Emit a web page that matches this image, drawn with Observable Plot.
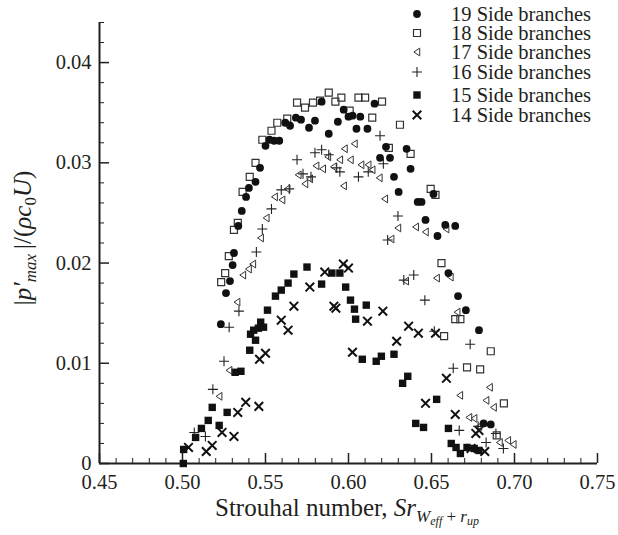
<!DOCTYPE html>
<html><head><meta charset="utf-8">
<script src="https://cdn.jsdelivr.net/npm/d3@7"></script>
<script src="https://cdn.jsdelivr.net/npm/@observablehq/plot@0.6"></script>
<style>
body{margin:0;background:#fff;}
#chart{position:relative;width:618px;height:535px;}
#chart svg, #chart svg text, #chart svg tspan{font-family:"Liberation Serif","Times New Roman",serif !important;}
</style>
</head><body><div id="chart"></div>
<script>
// ---- data ----
const seriesNames = ["19 Side branches","18 Side branches","17 Side branches","16 Side branches","15 Side branches","14 Side branches"];

const s19 = [[0.5231,0.0139],[0.5262,0.0170],[0.5286,0.0182],[0.5302,0.0198],[0.5310,0.0210],[0.5336,0.0237],[0.5357,0.0252],[0.5383,0.0266],[0.5400,0.0275],[0.5440,0.0281],[0.5467,0.0295],[0.5500,0.0317],[0.5524,0.0323],[0.5552,0.0322],[0.5583,0.0322],[0.5619,0.0340],[0.5648,0.0337],[0.5683,0.0345],[0.5714,0.0343],[0.5762,0.0335],[0.5798,0.0342],[0.5838,0.0361],[0.5881,0.0329],[0.5936,0.0341],[0.5971,0.0353],[0.6000,0.0346],[0.6024,0.0347],[0.6048,0.0334],[0.6071,0.0346],[0.6114,0.0334],[0.6157,0.0359],[0.6190,0.0305],[0.6226,0.0316],[0.6250,0.0305],[0.6274,0.0286],[0.6302,0.0271],[0.6350,0.0314],[0.6374,0.0294],[0.6417,0.0261],[0.6440,0.0261],[0.6464,0.0243],[0.6512,0.0269],[0.6536,0.0227],[0.6583,0.0238],[0.6643,0.0237],[0.6602,0.0190],[0.6660,0.0167],[0.6707,0.0153],[0.6786,0.0133],[0.6814,0.0040],[0.6857,0.0039]];

const s18 = [[0.5233,0.0181],[0.5257,0.0190],[0.5279,0.0207],[0.5310,0.0233],[0.5333,0.0240],[0.5362,0.0271],[0.5405,0.0286],[0.5440,0.0300],[0.5481,0.0323],[0.5536,0.0332],[0.5571,0.0340],[0.5631,0.0344],[0.5690,0.0360],[0.5738,0.0355],[0.5786,0.0360],[0.5829,0.0362],[0.5881,0.0370],[0.5921,0.0361],[0.5957,0.0365],[0.6007,0.0352],[0.6060,0.0365],[0.6100,0.0365],[0.6143,0.0345],[0.6202,0.0361],[0.6243,0.0315],[0.6310,0.0338],[0.6374,0.0309],[0.6495,0.0274],[0.6524,0.0268],[0.6560,0.0200],[0.6576,0.0127],[0.6643,0.0144],[0.6674,0.0144],[0.6714,0.0096],[0.6793,0.0094],[0.6857,0.0112],[0.6936,0.0060],[0.6893,0.0028]];

const s17 = [[0.5221,0.0067],[0.5281,0.0093],[0.5329,0.0161],[0.5364,0.0188],[0.5398,0.0194],[0.5424,0.0199],[0.5471,0.0225],[0.5505,0.0245],[0.5555,0.0266],[0.5600,0.0263],[0.5631,0.0274],[0.5698,0.0288],[0.5738,0.0279],[0.5767,0.0284],[0.5805,0.0297],[0.5845,0.0294],[0.5876,0.0306],[0.5910,0.0296],[0.5948,0.0303],[0.5971,0.0277],[0.5976,0.0314],[0.6012,0.0303],[0.6036,0.0319],[0.6076,0.0298],[0.6119,0.0298],[0.6143,0.0293],[0.6186,0.0285],[0.6219,0.0264],[0.6257,0.0224],[0.6298,0.0235],[0.6345,0.0182],[0.6405,0.0236],[0.6464,0.0231],[0.6531,0.0185],[0.6588,0.0234],[0.6614,0.0186],[0.6655,0.0151],[0.6671,0.0068],[0.6726,0.0046],[0.6757,0.0045],[0.6786,0.0037],[0.6829,0.0063],[0.6850,0.0076],[0.6874,0.0056],[0.6910,0.0021],[0.6960,0.0023],[0.6993,0.0019]];

const s16 = [[0.5071,0.0031],[0.5138,0.0027],[0.5183,0.0074],[0.5250,0.0102],[0.5281,0.0136],[0.5340,0.0152],[0.5445,0.0211],[0.5481,0.0234],[0.5536,0.0254],[0.5595,0.0273],[0.5643,0.0274],[0.5690,0.0303],[0.5726,0.0289],[0.5774,0.0286],[0.5798,0.0310],[0.5838,0.0313],[0.5881,0.0308],[0.5929,0.0295],[0.5948,0.0291],[0.6060,0.0286],[0.6119,0.0291],[0.6190,0.0327],[0.6210,0.0299],[0.6236,0.0223],[0.6298,0.0247],[0.6333,0.0183],[0.6393,0.0188],[0.6460,0.0163],[0.6517,0.0132],[0.6631,0.0095],[0.6667,0.0033],[0.6733,0.0119],[0.6781,0.0037],[0.6829,0.0021],[0.6888,0.0030],[0.6933,0.0015]];

const s15 = [[0.5005,0.0000],[0.5007,0.0014],[0.5079,0.0026],[0.5114,0.0035],[0.5155,0.0043],[0.5179,0.0056],[0.5221,0.0038],[0.5269,0.0051],[0.5317,0.0091],[0.5352,0.0092],[0.5405,0.0113],[0.5410,0.0129],[0.5429,0.0133],[0.5440,0.0123],[0.5457,0.0135],[0.5471,0.0141],[0.5488,0.0136],[0.5512,0.0153],[0.5560,0.0167],[0.5595,0.0173],[0.5636,0.0180],[0.5671,0.0189],[0.5750,0.0196],[0.5838,0.0179],[0.5900,0.0190],[0.5948,0.0190],[0.5983,0.0176],[0.6012,0.0163],[0.6036,0.0154],[0.6043,0.0144],[0.6107,0.0158],[0.6083,0.0104],[0.6167,0.0102],[0.6198,0.0107],[0.6274,0.0109],[0.6326,0.0080],[0.6357,0.0087],[0.6405,0.0040],[0.6452,0.0036],[0.6531,0.0064],[0.6602,0.0035],[0.6619,0.0020],[0.6648,0.0016],[0.6674,0.0010],[0.6714,0.0016],[0.6757,0.0015],[0.6786,0.0013]];

const s14 = [[0.5036,0.0016],[0.5143,0.0012],[0.5179,0.0018],[0.5238,0.0031],[0.5310,0.0027],[0.5333,0.0051],[0.5381,0.0061],[0.5460,0.0057],[0.5464,0.0104],[0.5500,0.0110],[0.5595,0.0143],[0.5636,0.0133],[0.5671,0.0157],[0.5767,0.0176],[0.5857,0.0191],[0.5912,0.0157],[0.5924,0.0155],[0.5969,0.0199],[0.6000,0.0195],[0.6024,0.0111],[0.6114,0.0142],[0.6207,0.0152],[0.6290,0.0122],[0.6362,0.0137],[0.6421,0.0130],[0.6464,0.0060],[0.6524,0.0130],[0.6590,0.0085],[0.6643,0.0049],[0.6738,0.0015],[0.6767,0.0030],[0.6786,0.0033],[0.6821,0.0012]];

const xMajor = [0.45,0.50,0.55,0.60,0.65,0.70,0.75];
const xMinor = [0.46,0.47,0.48,0.49,0.51,0.52,0.53,0.54,0.56,0.57,0.58,0.59,0.61,0.62,0.63,0.64,0.66,0.67,0.68,0.69,0.71,0.72,0.73,0.74];
const yMajor = [0,0.01,0.02,0.03,0.04];
const yMinor = [0.002,0.004,0.006,0.008,0.012,0.014,0.016,0.018,0.022,0.024,0.026,0.028,0.032,0.034,0.036,0.038,0.042,0.044];

// ---- symbols ----
const rad = size => Math.sqrt(size / Math.PI);
const symCircle = {draw(c, size){const s = rad(size); c.moveTo(s,0); c.arc(0,0,s,0,2*Math.PI);}};
const symSquare = {draw(c, size){const s = rad(size); c.rect(-s,-s,2*s,2*s);}};
const symTriLeft = {draw(c, size){const s = rad(size); c.moveTo(-s*0.8,0); c.lineTo(s*0.7,-s); c.lineTo(s*0.7,s); c.closePath();}};
const symPlus = {draw(c, size){const s = rad(size); c.moveTo(-s,0); c.lineTo(s,0); c.moveTo(0,-s); c.lineTo(0,s);}};
const symTimes = {draw(c, size){const s = rad(size); c.moveTo(-s,-s); c.lineTo(s,s); c.moveTo(-s,s); c.lineTo(s,-s);}};

const styles = [
  {data: s19, symbol: symCircle, r: 3.9, fill: "#111", stroke: "none", strokeWidth: 0},
  {data: s18, symbol: symSquare, r: 3.5, fill: "none", stroke: "#333", strokeWidth: 1.2},
  {data: s17, symbol: symTriLeft, r: 3.9, fill: "none", stroke: "#333", strokeWidth: 1},
  {data: s16, symbol: symPlus, r: 5, fill: "none", stroke: "#222", strokeWidth: 1.1},
  {data: s15, symbol: symSquare, r: 3.7, fill: "#111", stroke: "none", strokeWidth: 0},
  {data: s14, symbol: symTimes, r: 4.3, fill: "none", stroke: "#111", strokeWidth: 2}
];

const rows = d => d.map(([x, y]) => ({x, y}));
const ink = "#231f20";
const serif = "Liberation Serif";
const fmtY = d => d === 0 ? "0" : d3.format(".2f")(d);

const dotMarks = styles.slice().reverse().map(st =>
  Plot.dot(rows(st.data), {x: "x", y: "y", r: st.r, symbol: st.symbol, fill: st.fill, stroke: st.stroke, strokeWidth: st.strokeWidth})
);

const plot = Plot.plot({
  width: 618, height: 535,
  marginLeft: 99, marginRight: 21, marginTop: 22, marginBottom: 72,
  x: {domain: [0.45, 0.75]},
  y: {domain: [0, 0.044]},
  marks: [
    Plot.axisX({ticks: xMajor, tickFormat: d3.format(".2f"), tickSize: 0, tickPadding: 11, label: null, fontSize: 20.5, fill: ink}),
    Plot.axisX({ticks: xMajor, tickFormat: () => "", tickSize: -10, strokeWidth: 1.5, label: null, stroke: ink}),
    Plot.axisX({ticks: xMinor, tickFormat: () => "", tickSize: -5, strokeWidth: 1, label: null, stroke: ink}),
    Plot.axisY({ticks: yMajor, tickFormat: fmtY, tickSize: 0, tickPadding: 8, label: null, fontSize: 20.5, fill: ink}),
    Plot.axisY({ticks: yMajor, tickFormat: () => "", tickSize: -10, strokeWidth: 1.5, label: null, stroke: ink}),
    Plot.axisY({ticks: yMinor, tickFormat: () => "", tickSize: -5, strokeWidth: 1, label: null, stroke: ink}),
    Plot.ruleX([0.45], {stroke: ink, strokeWidth: 2}),
    Plot.ruleY([0], {stroke: ink, strokeWidth: 2}),
    ...dotMarks
  ]
});

document.getElementById("chart").appendChild(plot);

const svg = d3.select(plot);
svg.attr("font-family", serif).style("font-family", serif).style("background", "#fff");

// x-axis title
const xt = svg.append("text")
  .attr("x", 347).attr("y", 516)
  .attr("text-anchor", "middle")
  .attr("font-family", serif)
  .attr("fill", ink)
  .style("font-size", "25px");
xt.append("tspan").text("Strouhal number, ");
xt.append("tspan").attr("font-style", "italic").text("Sr");
xt.append("tspan").attr("font-style", "italic").attr("dy", 6).style("font-size", "17px").text("W");
xt.append("tspan").attr("font-style", "italic").attr("dy", 3).style("font-size", "12px").text("eff");
xt.append("tspan").attr("dy", -3).style("font-size", "17px").text(" + ");
xt.append("tspan").attr("font-style", "italic").style("font-size", "17px").text("r");
xt.append("tspan").attr("font-style", "italic").attr("dy", 3).style("font-size", "12px").text("up");

// y-axis title
const yt = svg.append("text")
  .attr("transform", "translate(31,238) rotate(-90)")
  .attr("text-anchor", "middle")
  .attr("font-family", serif)
  .attr("fill", ink)
  .style("font-size", "25px");
yt.append("tspan").text("|");
yt.append("tspan").attr("font-style", "italic").text("p\u2032");
yt.append("tspan").attr("font-style", "italic").attr("dy", 5).style("font-size", "17px").text("max");
yt.append("tspan").attr("dy", -5).text("\u2009|/(");
yt.append("tspan").attr("font-style", "italic").text("\u03C1c");
yt.append("tspan").attr("dy", 5).style("font-size", "17px").text("0");
yt.append("tspan").attr("font-style", "italic").attr("dy", -5).text("U");
yt.append("tspan").text(")");

// legend
const legendY = [14, 33, 52, 72, 95, 115];
const lg = svg.append("g");
styles.forEach((st, i) => {
  const size = Math.PI * st.r * st.r;
  lg.append("path")
    .attr("transform", `translate(417,${legendY[i]})`)
    .attr("d", d3.symbol().type(st.symbol).size(size)())
    .attr("fill", st.fill)
    .attr("stroke", st.stroke)
    .attr("stroke-width", st.strokeWidth);
  lg.append("text")
    .attr("x", 451).attr("y", legendY[i]).attr("dy", "0.35em")
    .attr("text-anchor", "start")
    .attr("font-family", serif)
    .attr("fill", ink)
    .style("font-size", "20.5px")
    .text(seriesNames[i]);
});
</script>
</body></html>
